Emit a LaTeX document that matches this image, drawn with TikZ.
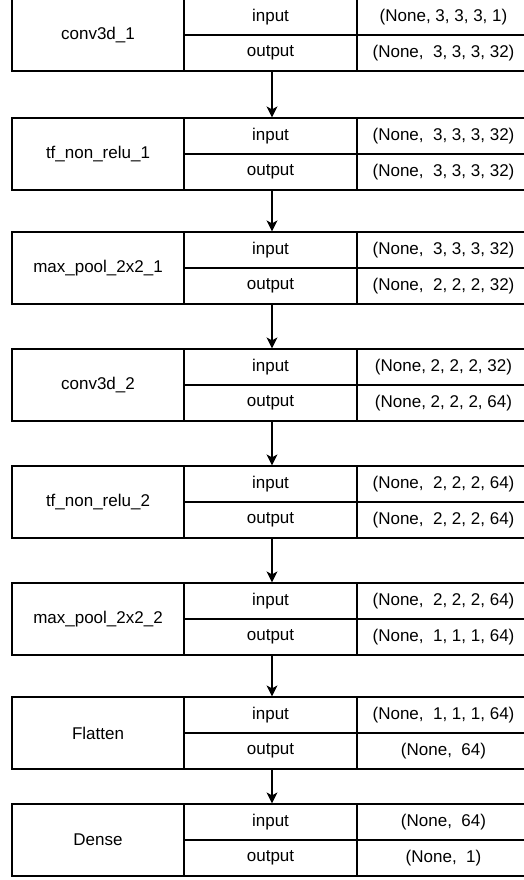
\documentclass[tikz,border=0pt]{standalone}
\usepackage{fontspec}
\setmainfont{Liberation Sans}
\usetikzlibrary{arrows.meta}
\begin{document}
\begin{tikzpicture}[x=1pt, y=-1pt, >={Stealth[length=11pt,width=11pt,inset=3pt]}, line width=1.2pt,
  layerbox/.style={draw, minimum width=172pt, minimum height=72pt, inner sep=0pt, font=\fontsize{17}{20}\selectfont},
  cellbox/.style={draw, minimum width=173pt, minimum height=36pt, inner sep=0pt, font=\fontsize{17}{20}\selectfont}]
\useasboundingbox (0,0) rectangle (523,880);

\foreach \n/\t/\name/\inshape/\outshape in {
  1/-1/conv3d\_1/{(None, 3, 3, 3, 1)}/{(None,~ 3, 3, 3, 32)},
  2/118/tf\_non\_relu\_1/{(None,~ 3, 3, 3, 32)}/{(None,~ 3, 3, 3, 32)},
  3/232/max\_pool\_2x2\_1/{(None,~ 3, 3, 3, 32)}/{(None,~ 2, 2, 2, 32)},
  4/349/conv3d\_2/{(None, 2, 2, 2, 32)}/{(None, 2, 2, 2, 64)},
  5/466/tf\_non\_relu\_2/{(None,~ 2, 2, 2, 64)}/{(None,~ 2, 2, 2, 64)},
  6/583/max\_pool\_2x2\_2/{(None,~ 2, 2, 2, 64)}/{(None,~ 1, 1, 1, 64)},
  7/697/Flatten/{(None,~ 1, 1, 1, 64)}/{(None,~ 64)},
  8/804/Dense/{(None,~ 64)}/{(None,~ 1)}}
{
    \node[layerbox] (l\n) at (98, \t+36) {\name};
    \node[cellbox] (l\n-in) at (270.5, \t+18) {input};
    \node[cellbox] (l\n-out) at (270.5, \t+54) {output};
    \node[cellbox] (l\n-ins) at (443.5, \t+18) {\inshape};
    \node[cellbox] (l\n-outs) at (443.5, \t+54) {\outshape};
}

\foreach \n [count=\m from 2] in {1,...,7}
{
    \draw[->] ([xshift=1.5pt]l\n-out.south) -- ([xshift=1.5pt]l\m-in.north);
}
\end{tikzpicture}
\end{document}
